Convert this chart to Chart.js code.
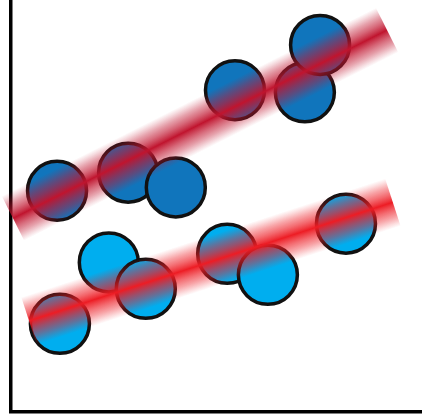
<!DOCTYPE html>
<html>
<head>
<meta charset="utf-8">
<script src="https://cdn.jsdelivr.net/npm/chart.js@4"></script>
<style>
  html, body { margin: 0; padding: 0; background: #fff; }
  #wrap { width: 422px; height: 415px; }
</style>
</head>
<body>
<div id="wrap"><canvas id="chart-scatter"></canvas></div>
<script>
// group A (dark blue) and group B (light blue)
const groupAX = [1.12, 2.85, 4.01, 5.45, 7.15, 7.52];
const groupAY = [5.37, 5.81, 5.45, 7.81, 7.76, 8.91];
const groupBX = [1.19, 2.38, 3.28, 5.26, 6.25, 8.15];
const groupBY = [2.14, 3.63, 2.99, 3.84, 3.33, 4.57];

// trend line end points
const trendAX = [0.05, 9.15];
const trendAY = [4.70, 9.27];
const trendBX = [0.44, 9.29];
const trendBY = [2.21, 5.09];

const BAND_WIDTH = 50;

const toPoints = (xs, ys) => xs.map((x, i) => ({ x: x, y: ys[i] }));

// gradient across the line, so the band fades out on both sides
function bandGradient(ctx, rgb) {
    const chart = ctx.chart;
    if (!chart.chartArea) return `rgba(${rgb},0.5)`;
    const pts = chart.data.datasets[ctx.datasetIndex].data;
    const sx = chart.scales.x, sy = chart.scales.y;
    const x0 = sx.getPixelForValue(pts[0].x), y0 = sy.getPixelForValue(pts[0].y);
    const x1 = sx.getPixelForValue(pts[1].x), y1 = sy.getPixelForValue(pts[1].y);
    const len = Math.hypot(x1 - x0, y1 - y0);
    const nx = -(y1 - y0) / len, ny = (x1 - x0) / len;
    const mx = (x0 + x1) / 2, my = (y0 + y1) / 2;
    const h = BAND_WIDTH / 2;
    const g = chart.ctx.createLinearGradient(mx - nx * h, my - ny * h, mx + nx * h, my + ny * h);
    const stops = [[0, 0], [0.08, 0.15], [0.2, 0.4], [0.34, 0.65], [0.45, 0.88], [0.5, 1],
                   [0.55, 0.88], [0.66, 0.65], [0.8, 0.4], [0.92, 0.15], [1, 0]];
    stops.forEach(([p, a]) => g.addColorStop(p, `rgba(${rgb},${a})`));
    return g;
}

const pointStyle = {
    pointRadius: 29.5,
    pointHoverRadius: 29.5,
    pointBorderWidth: 3.5,
    pointHoverBorderWidth: 3.5,
    pointBorderColor: "#111",
    showLine: false,
    order: 1
};

const bandStyle = {
    type: "line",
    showLine: true,
    borderWidth: BAND_WIDTH,
    borderCapStyle: "butt",
    pointRadius: 0,
    pointHoverRadius: 0,
    tension: 0,
    fill: false,
    clip: false,
    order: 0
};

const axisStyle = {
    type: "linear",
    min: 0,
    max: 10,
    z: 1,
    ticks: { display: false },
    grid: { display: false, drawTicks: false },
    border: { display: true, color: "#000", width: 3.5 }
};

new Chart(document.getElementById("chart-scatter"), {
    type: "scatter",
    data: {
        datasets: [
            {
                label: "A",
                data: toPoints(groupAX, groupAY),
                backgroundColor: "#1075bc",
                pointBackgroundColor: "#1075bc",
                ...pointStyle
            },
            {
                label: "B",
                data: toPoints(groupBX, groupBY),
                backgroundColor: "#00aeef",
                pointBackgroundColor: "#00aeef",
                ...pointStyle
            },
            {
                label: "Trend A",
                data: toPoints(trendAX, trendAY),
                borderColor: (ctx) => bandGradient(ctx, "192,20,46"),
                ...bandStyle
            },
            {
                label: "Trend B",
                data: toPoints(trendBX, trendBY),
                borderColor: (ctx) => bandGradient(ctx, "237,28,36"),
                ...bandStyle
            }
        ]
    },
    options: {
        responsive: true,
        maintainAspectRatio: false,
        animation: false,
        events: [],
        layout: { autoPadding: false, padding: { left: 11, right: 0, top: 0, bottom: 3 } },
        plugins: { legend: { display: false }, tooltip: { enabled: false } },
        scales: { x: axisStyle, y: axisStyle }
    }
});
</script>
</body>
</html>
